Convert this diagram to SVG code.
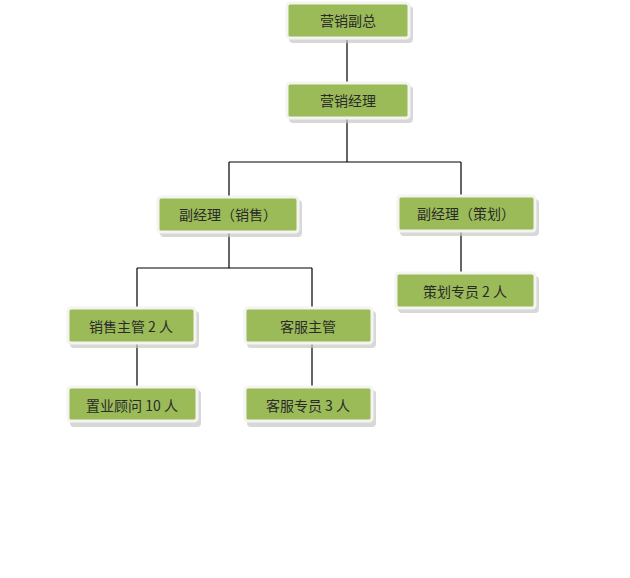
<svg xmlns="http://www.w3.org/2000/svg" width="630" height="578" viewBox="0 0 630 578">
<style>
.bx{fill:#9bbb59;stroke:#f4f4f0;stroke-width:3}
.sh{fill:#c8c8c8;opacity:0.7}
.t{font-family:"Noto Sans CJK SC","Liberation Sans",sans-serif;font-size:14px;fill:#2a2a2a;text-anchor:middle;dominant-baseline:central}
.c{stroke:#000;stroke-width:1.2;fill:none}
</style>
<rect width="630" height="578" fill="#fff"/>
<g id="connectors">
<path class="c" d="M347 40V84M347 118V162M229 162H461M229 162V197M461 162V196M229 231V268M137 268H312M137 268V308M312 268V308M137 343V387M312 343V387M461 231V273"/>
</g>
<g id="n1"><rect class="sh" x="289" y="6" width="124" height="37" rx="4"/><rect class="bx" x="287" y="3" width="122" height="35" rx="3"/><text class="t" x="348" y="20">营销副总</text></g>
<g id="n2"><rect class="sh" x="289" y="86" width="124" height="37" rx="4"/><rect class="bx" x="287" y="83" width="122" height="35" rx="3"/><text class="t" x="348" y="100">营销经理</text></g>
<g id="n3"><rect class="sh" x="160" y="200" width="142" height="37" rx="4"/><rect class="bx" x="158" y="197" width="140" height="35" rx="3"/><text class="t" x="228" y="214">副经理（销售）</text></g>
<g id="n4"><rect class="sh" x="400" y="199" width="139" height="37" rx="4"/><rect class="bx" x="398" y="196" width="137" height="35" rx="3"/><text class="t" x="466" y="213">副经理（策划）</text></g>
<g id="n5"><rect class="sh" x="398" y="276" width="141" height="37" rx="4"/><rect class="bx" x="396" y="273" width="139" height="35" rx="3"/><text class="t" x="465" y="291">策划专员 2 人</text></g>
<g id="n6"><rect class="sh" x="70" y="311" width="129" height="37" rx="4"/><rect class="bx" x="68" y="308" width="127" height="35" rx="3"/><text class="t" x="131" y="326">销售主管 2 人</text></g>
<g id="n7"><rect class="sh" x="247" y="311" width="129" height="37" rx="4"/><rect class="bx" x="245" y="308" width="127" height="35" rx="3"/><text class="t" x="308" y="326">客服主管</text></g>
<g id="n8"><rect class="sh" x="70" y="390" width="131" height="37" rx="4"/><rect class="bx" x="68" y="387" width="129" height="34" rx="3"/><text class="t" x="132" y="405">置业顾问 10 人</text></g>
<g id="n9"><rect class="sh" x="247" y="390" width="129" height="37" rx="4"/><rect class="bx" x="245" y="387" width="127" height="34" rx="3"/><text class="t" x="308" y="405">客服专员 3 人</text></g>
</svg>
